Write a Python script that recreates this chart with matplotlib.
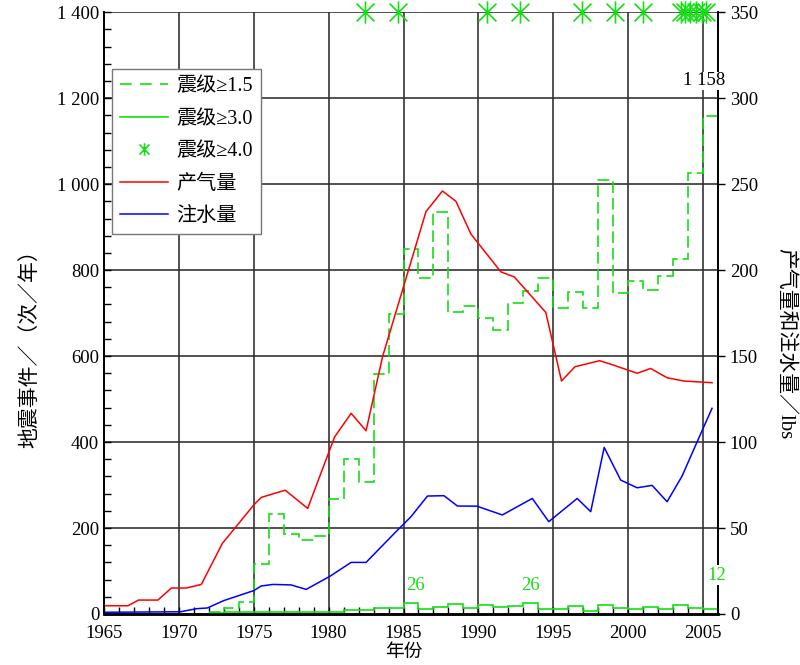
import numpy as np
import matplotlib
matplotlib.use("Agg")
import matplotlib.pyplot as plt
from matplotlib.lines import Line2D
from matplotlib.path import Path

plt.rcParams['font.family'] = ['Liberation Serif', 'Noto Sans CJK SC']
plt.rcParams['font.size'] = 13.5

# earthquake counts per year (left axis), steps start at each year
eq_years = np.arange(1972, 2006)
eq15 = [5, 13, 27, 116, 232, 187, 171, 182, 267, 360, 308, 558, 698, 849, 781, 936,
        702, 716, 688, 660, 723, 752, 782, 712, 750, 712, 1010, 746, 775, 753, 786,
        826, 1026, 1158]
eq30 = [3, 4, 4, 4, 4, 4, 4, 4, 4, 9, 9, 15, 15, 26, 11, 17, 24, 15, 22, 17, 18, 26,
        11, 11, 18, 7, 22, 15, 11, 17, 11, 20, 13, 12]
eq40_years = [1982.4, 1984.6, 1990.6, 1992.8, 1996.9, 1999.1, 2001.0,
              2003.5, 2003.8, 2004.1, 2004.5, 2004.9, 2005.2]

# gas production (right axis)
gas_x = [1965, 1966.6, 1967.3, 1968.6, 1969.5, 1970.5, 1971.5, 1972.9, 1975.0, 1975.5,
         1977.1, 1978.6, 1980.4, 1981.5, 1982.5, 1983.6, 1986.5, 1987.6, 1988.5,
         1989.5, 1991.5, 1992.4, 1994.5, 1995.55, 1996.45, 1998.1, 1999.0, 2000.6,
         2001.5, 2002.6, 2003.7, 2005.6]
gas_y = [4.8, 4.8, 8.1, 8.1, 15.1, 15.1, 17.2, 41, 63.4, 67.8, 72, 61.4, 103, 116.7,
         106.6, 149.6, 234, 246, 240, 221, 199, 196, 175.4, 135.5, 143.8, 147.3, 144.8,
         140, 142.8, 137.4, 135.5, 134.5]

# water injection (right axis)
wat_x = [1965, 1970.1, 1971.2, 1971.9, 1973.0, 1974.0, 1975.0, 1975.5, 1976.3, 1977.5,
         1978.5, 1980.1, 1981.5, 1982.5, 1984.5, 1985.5, 1986.6, 1987.7, 1988.6,
         1989.9, 1991.6, 1993.6, 1994.7, 1996.6, 1997.5, 1998.4, 1999.5, 2000.6,
         2001.6, 2002.6, 2003.6, 2004.6, 2005.6]
wat_y = [1.0, 1.3, 3.1, 3.5, 7.8, 10.7, 13.6, 16.3, 17.2, 16.9, 14.3, 22, 30, 30, 47.9,
         56.6, 68.6, 68.8, 62.8, 62.7, 57.6, 67.2, 53.7, 67.2, 59.5, 96.9, 77.9, 73.4,
         74.8, 65.3, 80.2, 100, 119.6]

green = '#11e011'
star = Path([(0, -1), (0, 1), (-0.8, -0.8), (0.8, 0.8), (-0.8, 0.8), (0.8, -0.8)],
            [Path.MOVETO, Path.LINETO] * 3)

fig = plt.figure(figsize=(8, 6.65), dpi=100)
ax = fig.add_axes([0.13, 0.0767, 0.7675, 0.905])
ax2 = ax.twinx()

edges = np.append(eq_years, 2006)
s15 = ax.stairs(eq15, edges, baseline=None, color=green, lw=1.2, zorder=3)
s15.set_linestyle((0, (7, 3)))
ax.stairs(eq30, edges, baseline=None, color=green, lw=1.2, zorder=3)
ax.plot(eq40_years, [1400] * len(eq40_years), ls='none', marker=star, ms=16,
        mec=green, mew=1.2, clip_on=False, zorder=5)

ax2.plot(gas_x, gas_y, color='red', lw=1.1)
ax2.plot(wat_x, wat_y, color='blue', lw=1.1)

ax.set_xlim(1965, 2006)
ax.set_ylim(0, 1400)
ax2.set_ylim(0, 350)
ax.set_xticks(range(1965, 2006, 5))
ax.set_xticks(range(1965, 2006), minor=True)
ax.set_yticks(range(0, 1401, 200))
ax.set_yticklabels(['0', '200', '400', '600', '800', '1 000', '1 200', '1 400'])
ax.set_yticks(range(0, 1401, 40), minor=True)
ax2.set_yticks(range(0, 351, 50))

ax.tick_params(which='both', direction='in', length=5, width=1, top=False)
ax.tick_params(axis='x', pad=8)
ax2.tick_params(direction='out', length=5, width=1)

for x in range(1970, 2006, 5):
    ax.axvline(x, color='#333333', lw=1.2, zorder=1)
for y in range(200, 1401, 200):
    ax.axhline(y, color='#333333', lw=1.2, zorder=1)
for a in (ax, ax2):
    a.spines['bottom'].set_linewidth(1.8)
    a.spines['left'].set_linewidth(1.3)
    a.spines['right'].set_linewidth(1.3)
    a.spines['top'].set_visible(False)

ax.set_xlabel('年份')
ax.xaxis.set_label_coords(0.489, -0.05)
ax.set_ylabel('地震事件／（次／年）', fontsize=15)
ax.yaxis.set_label_coords(-0.104, 0.45)
ax2.set_ylabel('产气量和注水量／lbs', rotation=270, va='bottom', fontsize=15)
ax2.yaxis.set_label_coords(1.093, 0.45)

ax.text(1985.8, 67, '26', color=green, ha='center', va='center', zorder=6)
ax.text(1993.5, 67, '26', color=green, ha='center', va='center', zorder=6)
ax2.text(2005.95, 22.5, '12', color=green, ha='center', va='center', zorder=6,
         clip_on=False, bbox=dict(fc='white', ec='none', pad=1))
ax2.text(2005.1, 310, '1 158', color='black', ha='center', va='center', zorder=6,
         clip_on=False, bbox=dict(fc='white', ec='none', pad=0.5))

handles = [
    Line2D([], [], color=green, lw=1.2, ls=(0, (7, 5))),
    Line2D([], [], color=green, lw=1.2),
    Line2D([], [], color=green, ls='none', marker=star, ms=9, mew=1.2),
    Line2D([], [], color='red', lw=1.1),
    Line2D([], [], color='blue', lw=1.1),
]
labels = ['震级≥1.5', '震级≥3.0', '震级≥4.0', '产气量', '注水量']
leg = ax2.legend(handles, labels, loc='upper left', bbox_to_anchor=(0.013, 0.905),
                 borderaxespad=0, fancybox=False, framealpha=1, edgecolor='#777777',
                 fontsize=14.5, handlelength=2.4, handletextpad=0.4,
                 labelspacing=0.66, borderpad=0.4)
leg.get_frame().set_linewidth(1.0)

fig.savefig('out.png', dpi=100)
